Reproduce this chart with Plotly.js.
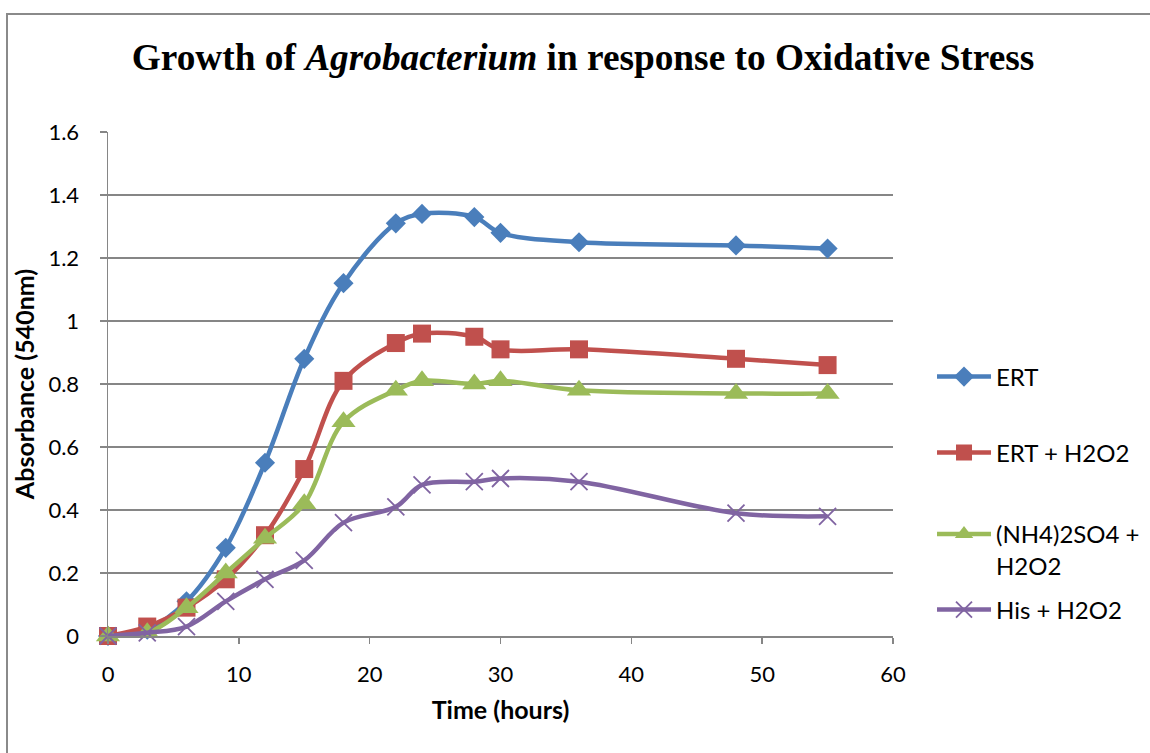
<!DOCTYPE html>
<html>
<head>
<meta charset="utf-8">
<script src="https://cdn.plot.ly/plotly-3.0.1.min.js"></script>
<style>
  html, body { margin: 0; padding: 0; background: #fff; }
  #chart { width: 1150px; height: 753px; }
  #frame { position: absolute; left: 6px; top: 13px; width: 1160px; height: 800px;
           border-top: 2px solid #8a8a8a; border-left: 2px solid #8a8a8a; pointer-events: none; }
</style>
</head>
<body>
<div id="chart"></div>
<div id="frame"></div>
<script>
// Time points (hours)
const timeHours = [0, 3, 6, 9, 12, 15, 18, 22, 24, 28, 30, 36, 48, 55];

// Absorbance at 540 nm for each condition
const ert        = [0, 0.02, 0.11, 0.28, 0.55, 0.88, 1.12, 1.31, 1.34, 1.33, 1.28, 1.25, 1.24, 1.23];
const ertH2O2    = [0, 0.03, 0.09, 0.18, 0.32, 0.53, 0.81, 0.93, 0.96, 0.95, 0.91, 0.91, 0.88, 0.86];
const nh4H2O2    = [0, 0.01, 0.09, 0.20, 0.31, 0.42, 0.68, 0.78, 0.81, 0.80, 0.81, 0.78, 0.77, 0.77];
const hisH2O2    = [0, 0.01, 0.03, 0.11, 0.18, 0.24, 0.36, 0.41, 0.48, 0.49, 0.50, 0.49, 0.39, 0.38];

const seriesNames = ["ERT", "ERT + H2O2", "(NH4)2SO4 +<br>H2O2", "His + H2O2"];
const yTickVals = [0, 0.2, 0.4, 0.6, 0.8, 1, 1.2, 1.4, 1.6];
const xTickVals = [0, 10, 20, 30, 40, 50, 60];

const sansFamily = "Lato, 'Open Sans', sans-serif";
const tickFont = { family: sansFamily, size: 22, color: "#000" };
const gridColor = "#868686";

function makeTrace(name, y, color, symbol, size, legendId) {
  const open = symbol === "x-thin-open";
  return {
    x: timeHours, y: y, name: name, type: "scatter", mode: "lines+markers",
    legend: legendId,
    line: { color: color, width: 4.5, shape: "spline", smoothing: 1 },
    marker: open
      ? { symbol: symbol, size: size, color: color, line: { color: color, width: 1.8 } }
      : { symbol: symbol, size: size, color: color, line: { width: 0 } },
    cliponaxis: false
  };
}

const traces = [
  makeTrace(seriesNames[0], ert,     "#4A7EBB", "diamond",     15.5, "legend"),
  makeTrace(seriesNames[1], ertH2O2, "#C0504D", "square",      18,   "legend2"),
  makeTrace(seriesNames[2], nh4H2O2, "#9BBB59", "triangle-up", 21,   "legend3"),
  makeTrace(seriesNames[3], hisH2O2, "#8064A2", "x-thin-open", 17,   "legend4")
];

function legendAt(y) {
  return {
    x: 1.0497, y: y, xanchor: "left", yanchor: "middle",
    font: { family: sansFamily, size: 24, color: "#000" },
    valign: "top", bgcolor: "rgba(0,0,0,0)", itemsizing: "trace", itemwidth: 54
  };
}

const layout = {
  width: 1150, height: 753,
  margin: { l: 108, r: 257, t: 132, b: 117, pad: 0, autoexpand: false },
  paper_bgcolor: "#fff", plot_bgcolor: "#fff",
  title: {
    text: "<b>Growth of <i>Agrobacterium</i> in response to Oxidative Stress</b>",
    font: { family: "'Liberation Serif', 'Times New Roman', serif", size: 37.3, color: "#000" },
    xref: "container", yref: "container", x: 0.507, y: 0.924, xanchor: "center", yanchor: "middle"
  },
  xaxis: {
    range: [0, 60], tickvals: xTickVals, ticktext: xTickVals.map(String),
    showgrid: false, zeroline: false,
    showline: true, linecolor: gridColor, linewidth: 1.5,
    ticks: "outside", ticklen: 6, tickcolor: gridColor, tickwidth: 1.5,
    ticklabelstandoff: 12,
    tickfont: tickFont,
    title: { text: "<b>Time (hours)</b>", font: { family: sansFamily, size: 25, color: "#000" }, standoff: 15 }
  },
  yaxis: {
    range: [0, 1.6], tickvals: yTickVals, ticktext: yTickVals.map(String),
    showgrid: true, gridcolor: gridColor, gridwidth: 1.5, zeroline: false,
    showline: true, linecolor: gridColor, linewidth: 1.5,
    ticks: "outside", ticklen: 7, tickcolor: gridColor, tickwidth: 1.5,
    ticklabelstandoff: 16,
    tickfont: tickFont,
    title: { text: "<b>Absorbance (540nm)</b>", font: { family: sansFamily, size: 25, color: "#000" }, standoff: 6 }
  },
  legend:  legendAt(0.5139),
  legend2: legendAt(0.3631),
  legend3: legendAt(0.1706),
  legend4: legendAt(0.0516),
  showlegend: true
};

Plotly.newPlot("chart", traces, layout, { displayModeBar: false, staticPlot: true });
</script>
</body>
</html>
